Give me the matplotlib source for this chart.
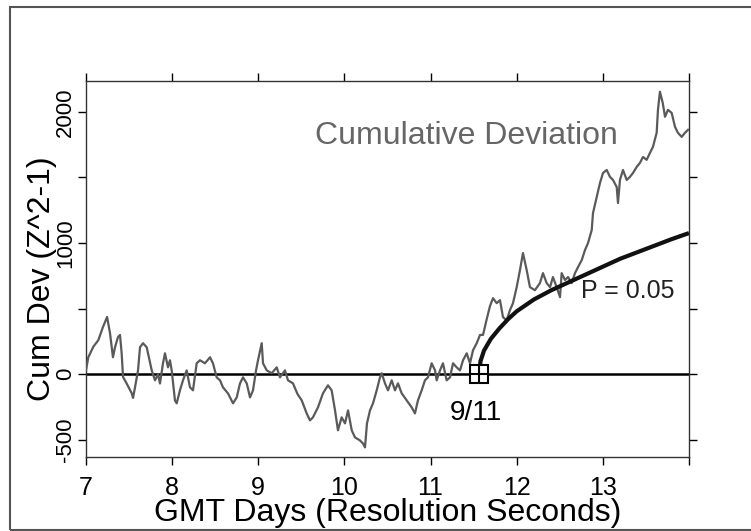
import matplotlib
matplotlib.use("Agg")
import matplotlib.pyplot as plt
from matplotlib.patches import Rectangle

plt.rcParams['font.family'] = ['Liberation Sans', 'DejaVu Sans']

# cumulative deviation trace (GMT day, Z^2-1 cum dev)
days = [7.000, 7.027, 7.085, 7.143, 7.197, 7.245, 7.279, 7.313, 7.337, 7.371,
        7.395, 7.414, 7.430, 7.472, 7.531, 7.546, 7.569, 7.604, 7.627, 7.662,
        7.705, 7.720, 7.763, 7.801, 7.836, 7.859, 7.894, 7.917, 7.952, 7.975,
        7.995, 8.033, 8.053, 8.091, 8.126, 8.169, 8.207, 8.242, 8.285, 8.323,
        8.381, 8.440, 8.474, 8.517, 8.556, 8.590, 8.648, 8.707, 8.750, 8.788,
        8.823, 8.866, 8.904, 8.939, 8.974, 8.997, 9.040, 9.055, 9.098, 9.156,
        9.214, 9.252, 9.310, 9.345, 9.403, 9.455, 9.504, 9.562, 9.600, 9.635,
        9.693, 9.751, 9.809, 9.852, 9.891, 9.925, 9.968, 10.007, 10.042, 10.085,
        10.123, 10.181, 10.216, 10.239, 10.262, 10.297, 10.332, 10.375, 10.413, 10.433,
        10.471, 10.506, 10.549, 10.587, 10.622, 10.665, 10.723, 10.781, 10.819, 10.854,
        10.897, 10.935, 10.970, 11.013, 11.052, 11.071, 11.110, 11.144, 11.187, 11.226,
        11.261, 11.303, 11.342, 11.377, 11.420, 11.458, 11.493, 11.536, 11.574, 11.609,
        11.652, 11.690, 11.725, 11.768, 11.806, 11.841, 11.884, 11.922, 11.957, 12.000,
        12.038, 12.073, 12.116, 12.154, 12.212, 12.270, 12.305, 12.348, 12.387, 12.421,
        12.464, 12.503, 12.522, 12.561, 12.596, 12.638, 12.677, 12.712, 12.755, 12.793,
        12.828, 12.871, 12.886, 12.929, 12.967, 13.002, 13.045, 13.083, 13.118, 13.161,
        13.176, 13.199, 13.234, 13.277, 13.315, 13.350, 13.393, 13.431, 13.466, 13.509,
        13.547, 13.582, 13.625, 13.640, 13.663, 13.695, 13.722, 13.756, 13.799, 13.838,
        13.872, 13.915, 13.954, 13.989]
cumdev = [30, 130, 210, 260, 360, 437, 313, 130, 206, 283,
          300, 160, -20, -70, -145, -180, -100, 30, 206, 237,
          206, 160, 30, -46, 0, -70, 84, 160, 53, 107,
          30, -200, -221, -122, -46, 30, -99, -122, 84, 107,
          84, 130, 84, -23, -46, -99, -145, -221, -176, -69,
          -23, -69, -176, -122, 30, 107, 237, 84, 30, 8,
          53, -23, 30, -46, -69, -150, -198, -298, -351, -328,
          -252, -145, -84, -122, -275, -427, -328, -374, -275, -427,
          -481, -504, -527, -557, -374, -275, -221, -122, -23, 8,
          -69, -122, -46, -122, -69, -145, -198, -252, -298, -198,
          -122, -46, -23, 84, 30, -46, 30, 84, -46, -23,
          84, 53, 30, 107, 160, 84, 183, 237, 300, 300,
          420, 520, 580, 542, 565, 435, 412, 489, 542, 664,
          794, 924, 794, 664, 641, 695, 771, 695, 664, 741,
          664, 588, 771, 718, 741, 695, 771, 817, 870, 947,
          1000, 1099, 1229, 1351, 1458, 1534, 1557, 1504, 1481, 1427,
          1305, 1481, 1557, 1481, 1504, 1534, 1580, 1611, 1656, 1634,
          1687, 1733, 1840, 2015, 2153, 2069, 1962, 2015, 1992, 1885,
          1840, 1809, 1840, 1863]

# P = 0.05 envelope starting at the 9/11 marker
p_days = [11.565, 11.58, 11.62, 11.70, 11.80, 11.90, 12.00, 12.20, 12.40,
          12.60, 12.80, 13.00, 13.20, 13.40, 13.60, 13.80, 14.00]
p_vals = [0, 100, 180, 270, 350, 420, 480, 570, 640,
          700, 760, 820, 880, 930, 980, 1030, 1076]

event_day = 11.565
xticks = [7, 8, 9, 10, 11, 12, 13, 14]
xticklabels = ['7', '8', '9', '10', '11', '12', '13', '']
yticks = [-500, 0, 500, 1000, 1500, 2000]
yticklabels = ['-500', '0', '', '1000', '', '2000']

fig = plt.figure(figsize=(7.51, 5.31), dpi=100)
ax = fig.add_axes([0.1145, 0.1394, 0.8029, 0.7081])

ax.axhline(0, color='black', lw=1.8, zorder=2)
ax.plot(days, cumdev, color='#5a5a5a', lw=1.6, zorder=3)
ax.plot(p_days, p_vals, color='#111111', lw=3, zorder=4, solid_capstyle='butt')
ax.plot([event_day], [0], marker='s', ms=13.5, mfc='white', mec='black', mew=1.5, zorder=5)
ax.plot([event_day], [0], marker='+', ms=13.5, mec='black', mew=1.5, zorder=6)

ax.text(11.417, 1817, 'Cumulative Deviation', fontsize=23, color='#666666',
        ha='center', va='center')
ax.text(13.292, 634, 'P = 0.05', fontsize=18, color='#222222', ha='center', va='center')
ax.text(11.528, -298, '9/11', fontsize=20, color='black', ha='center', va='center')

ax.set_xlim(7, 14)
ax.set_ylim(-630, 2235)
ax.set_xticks(xticks)
ax.set_xticklabels(xticklabels)
ax.set_yticks(yticks)
ax.set_yticklabels(yticklabels, rotation=90, va='center')
ax.tick_params(axis='x', which='both', direction='out', length=6, width=1,
               top=True, bottom=True, labelsize=18, pad=8)
ax.tick_params(axis='y', which='both', direction='out', length=6, width=1,
               left=True, right=True, labelsize=16, pad=1)
for s in ax.spines.values():
    s.set_linewidth(1)
    s.set_color('#333333')

ax.set_xlabel('GMT Days (Resolution Seconds)', fontsize=23)
ax.xaxis.set_label_coords(0.5, -0.149)
ax.xaxis.label.set_va('center')
ax.set_ylabel('Cum Dev (Z^2-1)', fontsize=23)
ax.yaxis.set_label_coords(-0.073, 0.473)
ax.yaxis.label.set_va('center')

# outer frame
fig.patches.append(Rectangle((0.0133, 0.002), 1.1, 0.985, transform=fig.transFigure,
                             fill=False, edgecolor='#555555', lw=1.5))

fig.savefig('out.png', dpi=100)
